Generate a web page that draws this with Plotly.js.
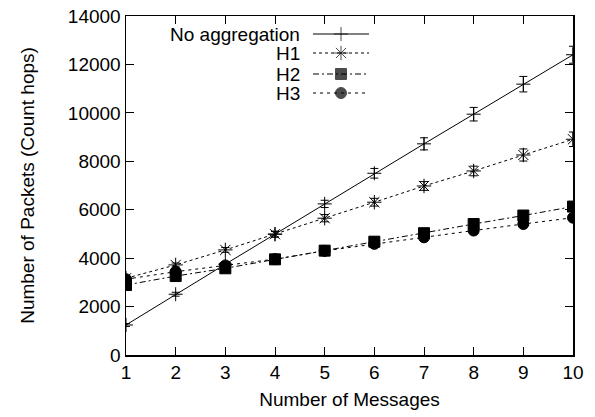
<!DOCTYPE html>
<html>
<head>
<meta charset="utf-8">
<script src="https://cdn.plot.ly/plotly-3.0.1.min.js"></script>
<style>html,body{margin:0;padding:0;background:#fff;}#chart{width:595px;height:417px;}</style>
</head>
<body>
<div id="chart"></div>
<script>
const messages = [1, 2, 3, 4, 5, 6, 7, 8, 9, 10];
const noAggregation = [1240, 2510, 3750, 4990, 6240, 7505, 8720, 9945, 11185, 12400];
const noAggregationErr = [60, 80, 100, 120, 150, 200, 250, 280, 320, 350];
const h1 = [3170, 3720, 4340, 4990, 5650, 6310, 6980, 7600, 8260, 8910];
const h1Err = [60, 80, 100, 120, 150, 160, 180, 200, 250, 300];
const h2 = [2890, 3260, 3580, 3950, 4310, 4680, 5030, 5410, 5760, 6130];
const h2Err = [50, 50, 60, 60, 70, 80, 90, 100, 100, 110];
const h3 = [3130, 3440, 3700, 3960, 4300, 4590, 4860, 5140, 5410, 5670];
const h3Err = [50, 50, 60, 60, 70, 80, 90, 100, 100, 110];
const seriesNames = ['No aggregation', 'H1', 'H2', 'H3'];
const yTicks = [0, 2000, 4000, 6000, 8000, 10000, 12000, 14000];
const yTickLabels = ['0', '2000', '4000', '6000', '8000', '10000', '12000', '14000'];
const xTickLabels = ['1', '2', '3', '4', '5', '6', '7', '8', '9', '10'];

const FONT = 'Liberation Sans, Arial, sans-serif';
const FS = 19;
const styles = [
  {symbol: 'cross-thin-open', dash: 'solid', size: 10},
  {symbol: 'asterisk-open', dash: '3px,3px', size: 12},
  {symbol: 'square', dash: '6px,3px,2px,3px', size: 11},
  {symbol: 'circle', dash: '3px,4px', size: 11}
];
const seriesY = [noAggregation, h1, h2, h3];
const seriesErr = [noAggregationErr, h1Err, h2Err, h3Err];

const traces = seriesY.map((ys, i) => ({
  x: messages, y: ys, type: 'scatter', mode: 'lines+markers', name: seriesNames[i],
  showlegend: false,
  line: {color: '#000', width: 1, dash: styles[i].dash},
  marker: {symbol: styles[i].symbol, size: styles[i].size, color: '#000', line: {color: '#000', width: 1}},
  error_y: {type: 'data', array: seriesErr[i], visible: true, color: '#000', thickness: 1, width: 4}
}));

// custom legend (text on the left, sample on the right, as in the reference)
const legendRowY = [18, 37, 58, 77];        // px from top of plot area
const legendSample = [187, 215, 243];        // px from left of plot area
const annotations = [];
seriesNames.forEach((nm, i) => {
  traces.push({
    x: legendSample, y: [legendRowY[i], legendRowY[i], legendRowY[i]],
    xaxis: 'x2', yaxis: 'y2', type: 'scatter', mode: 'lines+markers', showlegend: false, hoverinfo: 'skip',
    line: {color: '#000', width: 1, dash: styles[i].dash},
    marker: {symbol: styles[i].symbol, size: [0, styles[i].size, 0], color: '#000', line: {color: '#000', width: 1}}
  });
  annotations.push({
    xref: 'x2', yref: 'y2', x: 176, y: legendRowY[i], text: nm, showarrow: false,
    xanchor: 'right', yanchor: 'middle', font: {family: FONT, size: FS, color: '#000'}
  });
});

const layout = {
  width: 595, height: 417,
  margin: {l: 126, r: 22, t: 16, b: 62},
  paper_bgcolor: '#fff', plot_bgcolor: '#fff',
  font: {family: FONT, size: FS, color: '#000'},
  showlegend: false,
  xaxis: {
    range: [1, 10], tickvals: messages, ticktext: xTickLabels, ticks: 'inside', ticklen: 8, tickwidth: 1, tickcolor: '#000',
    showline: true, linecolor: '#000', linewidth: 1.5, mirror: 'ticks', showgrid: false, zeroline: false,
    title: {text: 'Number of Messages', font: {family: FONT, size: FS}, standoff: 10},
    tickfont: {family: FONT, size: FS}
  },
  yaxis: {
    range: [0, 14000], tickvals: yTicks, ticktext: yTickLabels, ticks: 'inside', ticklen: 8, tickwidth: 1, tickcolor: '#000',
    showline: true, linecolor: '#000', linewidth: 1.5, mirror: 'ticks', showgrid: false, zeroline: false,
    title: {text: 'Number of Packets (Count hops)', font: {family: FONT, size: FS}, standoff: 28},
    tickfont: {family: FONT, size: FS}
  },
  xaxis2: {overlaying: 'x', anchor: 'y2', range: [0, 447], visible: false, fixedrange: true},
  yaxis2: {overlaying: 'y', anchor: 'x2', range: [339, 0], visible: false, fixedrange: true},
  annotations: annotations
};

Plotly.newPlot('chart', traces, layout, {staticPlot: true, displayModeBar: false});
</script>
</body>
</html>
